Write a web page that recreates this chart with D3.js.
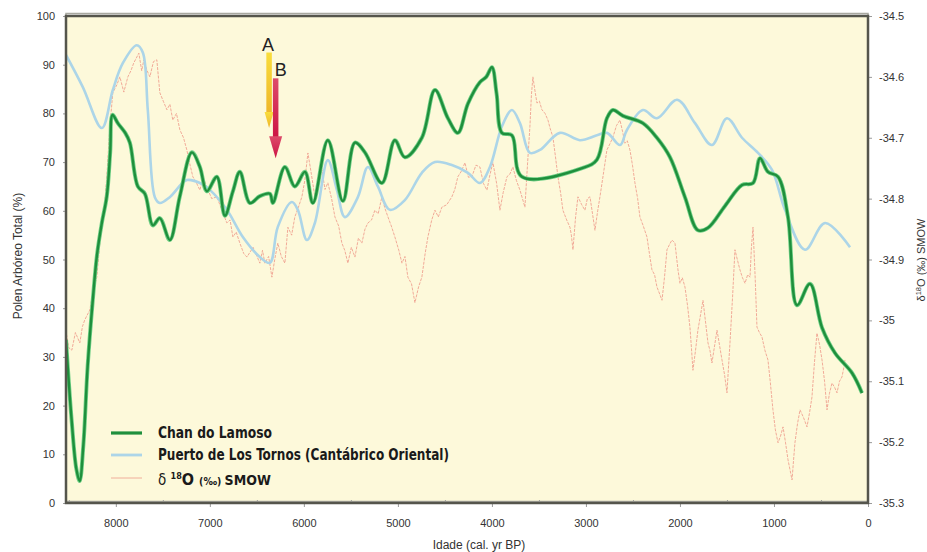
<!DOCTYPE html>
<html>
<head>
<meta charset="utf-8">
<script src="https://cdn.jsdelivr.net/npm/d3@7"></script>
<style>
  html, body { margin: 0; padding: 0; background: #ffffff; }
  svg { display: block; }
</style>
</head>
<body>
<svg id="chart" width="927" height="552"></svg>
<script>
// Tick values
const xTicks = [8000, 7000, 6000, 5000, 4000, 3000, 2000, 1000, 0];
const xMinorTicks = [8500, 7500, 6500, 5500, 4500, 3500, 2500, 1500, 500];
const leftTicks = [0, 10, 20, 30, 40, 50, 60, 70, 80, 90, 100];
const rightTicks = [-35.3, -35.2, -35.1, -35.0, -34.9, -34.8, -34.7, -34.6, -34.5];

// Chan do Lamoso: arboreal pollen (%), by age (cal. yr BP)
const lamosoAge = [8530, 8470, 8420, 8385, 8345, 8300, 8245, 8200, 8149, 8096, 8060, 8035, 7979, 7900, 7851, 7766, 7691, 7606, 7532, 7426, 7319, 7191, 7106, 7032, 6926, 6840, 6755, 6681, 6574, 6468, 6362, 6330, 6202, 6096, 5989, 5904, 5745, 5585, 5457, 5351, 5170, 5032, 4926, 4745, 4606, 4468, 4362, 4255, 4128, 4060, 4000, 3950, 3894, 3787, 3681, 3032, 2883, 2777, 2713, 2606, 2394, 2245, 2106, 1947, 1809, 1702, 1521, 1340, 1223, 1149, 1064, 957, 851, 755, 617, 489, 351, 170, 64];
const lamosoVal = [33.5, 17, 7, 4.5, 12, 28, 41.7, 51, 57.5, 63, 72, 79.7, 78, 76, 74, 65, 63.5, 57, 58.5, 54, 63, 72, 69, 64, 67, 59, 64, 68, 61.6, 63, 63.5, 61.6, 69, 65, 68, 61.6, 74.5, 62, 74, 72, 65.7, 74.5, 71, 75, 84.8, 79, 76, 82, 86.4, 87.5, 89.5, 84, 76, 75.5, 67, 68.8, 70.5, 79, 80.7, 79.5, 78, 75, 71, 62.8, 56, 56.5, 61, 65.3, 65.7, 70.8, 68, 67, 58.7, 40.6, 45, 36, 30.8, 26.7, 22.6];

// Puerto de Los Tornos (Cantábrico Oriental): arboreal pollen (%)
const tornosAge = [8530, 8351, 8149, 8032, 7926, 7777, 7713, 7660, 7585, 7532, 7426, 7245, 7106, 7000, 6819, 6649, 6468, 6362, 6277, 6128, 6064, 5968, 5883, 5745, 5649, 5564, 5426, 5319, 5213, 5085, 4926, 4745, 4606, 4426, 4255, 4128, 4021, 3894, 3787, 3702, 3596, 3489, 3277, 3064, 2883, 2777, 2638, 2564, 2394, 2245, 2030, 1840, 1660, 1500, 1340, 1170, 1021, 883, 670, 457, 191];
const tornosVal = [92, 85.4, 77, 84.8, 90.3, 94, 92.5, 80.7, 62.8, 61.6, 62.8, 66.3, 65.7, 64.3, 60.2, 54.6, 50.5, 49.3, 56.7, 61.8, 60.2, 54, 57.5, 70.4, 64.3, 58.7, 62.8, 69, 65, 60.2, 62.2, 67.8, 70, 69.4, 67.8, 65.7, 69, 77.3, 80.7, 78, 71.9, 72.5, 76, 74.5, 75.5, 76, 73.5, 76.6, 80.7, 79, 82.8, 78, 73.5, 79, 75, 71.9, 68.4, 60.2, 52, 57.5, 52.5];

// δ18O (‰ SMOW) record
const isoAge = [8532, 8500, 8468, 8430, 8383, 8355, 8330, 8277, 8240, 8202, 8170, 8130, 8096, 8064, 8032, 7989, 7957, 7915, 7872, 7840, 7809, 7755, 7725, 7702, 7670, 7638, 7600, 7564, 7532, 7495, 7457, 7425, 7394, 7355, 7319, 7280, 7245, 7210, 7181, 7140, 7106, 7070, 7032, 6980, 6925, 6870, 6819, 6785, 6755, 6720, 6681, 6640, 6606, 6540, 6468, 6440, 6415, 6375, 6340, 6310, 6277, 6240, 6202, 6170, 6130, 6096, 6060, 6021, 5990, 5957, 5920, 5883, 5845, 5808, 5775, 5745, 5705, 5670, 5630, 5596, 5565, 5532, 5495, 5457, 5420, 5383, 5350, 5319, 5280, 5245, 5210, 5170, 5140, 5106, 5070, 5032, 4990, 4957, 4925, 4894, 4855, 4819, 4780, 4745, 4710, 4681, 4640, 4606, 4570, 4532, 4480, 4426, 4395, 4362, 4325, 4287, 4250, 4213, 4170, 4128, 4090, 4053, 4020, 3989, 3950, 3915, 3880, 3840, 3810, 3777, 3740, 3702, 3675, 3649, 3620, 3596, 3580, 3564, 3540, 3521, 3495, 3468, 3435, 3404, 3380, 3351, 3325, 3298, 3270, 3245, 3205, 3170, 3155, 3138, 3110, 3085, 3045, 3011, 2985, 2957, 2930, 2904, 2875, 2851, 2815, 2777, 2745, 2713, 2675, 2638, 2610, 2585, 2560, 2532, 2505, 2479, 2450, 2426, 2390, 2351, 2325, 2298, 2270, 2245, 2220, 2191, 2165, 2138, 2110, 2085, 2053, 2021, 2000, 1975, 1947, 1920, 1894, 1878, 1862, 1835, 1809, 1780, 1755, 1730, 1702, 1680, 1660, 1630, 1606, 1580, 1553, 1525, 1500, 1485, 1468, 1440, 1415, 1390, 1362, 1335, 1308, 1280, 1255, 1240, 1223, 1200, 1181, 1155, 1128, 1095, 1064, 1040, 1011, 985, 957, 930, 904, 878, 851, 830, 808, 792, 777, 750, 723, 685, 649, 620, 596, 570, 543, 515, 489, 462, 436, 410, 383, 355, 330, 303, 277, 260, 245];
const isoVal = [-35.016, -35.045, -35.049, -35.02, -35.037, -35.01, -34.999, -34.983, -34.95, -34.929, -34.873, -34.83, -34.764, -34.682, -34.626, -34.613, -34.600, -34.625, -34.600, -34.59, -34.577, -34.561, -34.59, -34.572, -34.589, -34.600, -34.575, -34.572, -34.626, -34.64, -34.654, -34.645, -34.671, -34.66, -34.687, -34.70, -34.720, -34.745, -34.764, -34.775, -34.786, -34.765, -34.781, -34.80, -34.797, -34.82, -34.840, -34.835, -34.863, -34.855, -34.873, -34.89, -34.896, -34.88, -34.906, -34.885, -34.906, -34.895, -34.929, -34.90, -34.873, -34.895, -34.906, -34.847, -34.86, -34.830, -34.815, -34.797, -34.77, -34.725, -34.76, -34.797, -34.775, -34.753, -34.785, -34.774, -34.80, -34.830, -34.845, -34.873, -34.885, -34.906, -34.88, -34.896, -34.865, -34.873, -34.85, -34.840, -34.835, -34.819, -34.825, -34.797, -34.815, -34.830, -34.845, -34.863, -34.885, -34.906, -34.895, -34.929, -34.94, -34.971, -34.945, -34.929, -34.89, -34.863, -34.835, -34.819, -34.83, -34.814, -34.81, -34.797, -34.785, -34.764, -34.755, -34.741, -34.765, -34.764, -34.745, -34.748, -34.775, -34.786, -34.76, -34.741, -34.775, -34.819, -34.79, -34.764, -34.76, -34.748, -34.77, -34.786, -34.80, -34.814, -34.74, -34.682, -34.63, -34.600, -34.625, -34.643, -34.64, -34.654, -34.66, -34.671, -34.685, -34.699, -34.73, -34.764, -34.79, -34.819, -34.835, -34.847, -34.86, -34.884, -34.83, -34.797, -34.81, -34.819, -34.80, -34.797, -34.825, -34.852, -34.82, -34.797, -34.76, -34.720, -34.71, -34.699, -34.68, -34.671, -34.69, -34.709, -34.705, -34.720, -34.745, -34.774, -34.80, -34.830, -34.845, -34.863, -34.89, -34.917, -34.925, -34.945, -34.955, -34.967, -34.93, -34.884, -34.875, -34.868, -34.873, -34.917, -34.939, -34.93, -34.945, -34.975, -35.011, -35.045, -35.082, -35.05, -35.016, -34.99, -34.967, -35.00, -35.037, -35.05, -35.070, -35.04, -35.016, -35.04, -35.065, -35.09, -35.119, -35.08, -35.037, -34.96, -34.884, -34.90, -34.917, -34.93, -34.939, -34.925, -34.929, -34.88, -34.847, -34.93, -35.011, -35.02, -35.027, -35.05, -35.065, -35.10, -35.147, -35.18, -35.201, -35.19, -35.175, -35.20, -35.229, -35.245, -35.262, -35.23, -35.201, -35.17, -35.147, -35.16, -35.175, -35.15, -35.126, -35.07, -35.021, -35.04, -35.065, -35.10, -35.147, -35.12, -35.103, -35.11, -35.119, -35.10, -35.093, -35.08, -35.065];

// Event markers
const markerLabels = ["A", "B"];
const markerAges = [6370, 6300];
const markerFrom = [92.5, 87.2];
const markerTo = [77, 70.8];

// Legend entries
const legendNames = ["Chan do Lamoso", "Puerto de Los Tornos (Cantábrico Oriental)", "δ 18O (‰) SMOW"];

const svg = d3.select("#chart");
const plotL = 66, plotR = 868, plotT = 16, plotB = 503;

const x = d3.scaleLinear().domain([8530, 0]).range([plotL, plotR]);
const yL = d3.scaleLinear().domain([0, 100]).range([plotB, plotT]);
const yR = d3.scaleLinear().domain([-35.3, -34.5]).range([plotB, plotT]);

const defs = svg.append("defs");
defs.append("clipPath").attr("id", "plotClip")
  .append("rect").attr("x", plotL).attr("y", plotT).attr("width", plotR - plotL).attr("height", plotB - plotT);

const gradA = defs.append("linearGradient").attr("id", "gradA").attr("x1", 0).attr("y1", 0).attr("x2", 0).attr("y2", 1);
gradA.append("stop").attr("offset", "0%").attr("stop-color", "#f9dd3c");
gradA.append("stop").attr("offset", "100%").attr("stop-color", "#eeb52a");
const gradB = defs.append("linearGradient").attr("id", "gradB").attr("x1", 0).attr("y1", 0).attr("x2", 0).attr("y2", 1);
gradB.append("stop").attr("offset", "0%").attr("stop-color", "#dd4a6a");
gradB.append("stop").attr("offset", "100%").attr("stop-color", "#cc1444");

// Plot background
svg.append("rect")
  .attr("x", plotL).attr("y", plotT)
  .attr("width", plotR - plotL).attr("height", plotB - plotT)
  .attr("fill", "#fdf9da");

const plot = svg.append("g").attr("clip-path", "url(#plotClip)");

// δ18O record
const isoData = isoAge.map((a, i) => [a, isoVal[i]]);
plot.append("path")
  .datum(isoData)
  .attr("fill", "none")
  .attr("stroke", "#ee9c8c")
  .attr("stroke-width", 1)
  .attr("stroke-dasharray", "3,1.2")
  .attr("opacity", 0.85)
  .attr("d", d3.line().x(d => x(d[0])).y(d => yR(d[1])));

// Puerto de Los Tornos
const tornosData = tornosAge.map((a, i) => [a, tornosVal[i]]);
plot.append("path")
  .datum(tornosData)
  .attr("fill", "none")
  .attr("stroke", "#acd5e8")
  .attr("stroke-width", 2.6)
  .attr("d", d3.line().curve(d3.curveCatmullRom.alpha(0.5)).x(d => x(d[0])).y(d => yL(d[1])));

// Chan do Lamoso
const lamosoData = lamosoAge.map((a, i) => [a, lamosoVal[i]]);
const lamosoLine = d3.line().curve(d3.curveCatmullRom.alpha(0.5)).x(d => x(d[0])).y(d => yL(d[1]));
plot.append("path")
  .datum(lamosoData)
  .attr("fill", "none")
  .attr("stroke", "#6fcf86")
  .attr("stroke-width", 4)
  .attr("stroke-linejoin", "round")
  .attr("d", lamosoLine);
plot.append("path")
  .datum(lamosoData)
  .attr("fill", "none")
  .attr("stroke", "#1f8f3c")
  .attr("stroke-width", 2.4)
  .attr("stroke-linejoin", "round")
  .attr("d", lamosoLine);

// Event arrows A and B
const markerFill = ["url(#gradA)", "url(#gradB)"];
const shaftW = 5.5;
const headW = [9, 13];
const headH = [16, 22];
markerLabels.forEach((lab, i) => {
  const cx = x(markerAges[i]);
  const y0 = yL(markerFrom[i]);
  const y1 = yL(markerTo[i]);
  const g = svg.append("g");
  g.append("rect")
    .attr("x", cx - shaftW / 2).attr("y", y0)
    .attr("width", shaftW).attr("height", y1 - headH[i] - y0 + 2)
    .attr("fill", markerFill[i]);
  g.append("path")
    .attr("d", `M${cx - headW[i] / 2},${y1 - headH[i]} L${cx + headW[i] / 2},${y1 - headH[i]} L${cx},${y1} Z`)
    .attr("fill", markerFill[i]);
  g.append("text")
    .attr("x", cx + (i === 0 ? -1 : 5))
    .attr("y", y0 - 2)
    .attr("text-anchor", "middle")
    .attr("font-family", "Liberation Sans, Arial, sans-serif")
    .attr("font-size", 18)
    .attr("fill", "#222")
    .text(lab);
});

// Legend
const legendFont = "'Liberation Sans Narrow', 'DejaVu Sans Condensed', 'Liberation Sans', sans-serif";
const legendY = [433, 455, 478];
const legendWidths = [114, 291, 119];
const lg = svg.append("g");
lg.append("line").attr("x1", 111).attr("x2", 142).attr("y1", legendY[0]).attr("y2", legendY[0])
  .attr("stroke", "#1f8f3c").attr("stroke-width", 3.2);
lg.append("line").attr("x1", 111).attr("x2", 142).attr("y1", legendY[1]).attr("y2", legendY[1])
  .attr("stroke", "#acd5e8").attr("stroke-width", 2.8);
lg.append("line").attr("x1", 111).attr("x2", 142).attr("y1", legendY[2]).attr("y2", legendY[2])
  .attr("stroke", "#ee9c8c").attr("stroke-width", 1).attr("opacity", 0.8);

[0, 1].forEach(i => {
  lg.append("text")
    .attr("x", 158).attr("y", legendY[i] + 5)
    .attr("font-family", legendFont)
    .attr("font-weight", "bold")
    .attr("font-size", 15)
    .attr("fill", "#1a1a1a")
    .attr("textLength", legendWidths[i])
    .attr("lengthAdjust", "spacingAndGlyphs")
    .text(legendNames[i]);
});
const isoLegend = lg.append("text")
  .attr("x", 158).attr("y", legendY[2] + 7)
  .attr("font-family", legendFont)
  .attr("font-weight", "bold")
  .attr("fill", "#1a1a1a");
isoLegend.append("tspan").attr("font-size", 15).attr("font-weight", "normal").text("δ ");
isoLegend.append("tspan").attr("font-size", 9).attr("dy", -6).text("18");
isoLegend.append("tspan").attr("font-size", 16).attr("dy", 6).text("O ");
isoLegend.append("tspan").attr("font-size", 10.5).text("(‰) ");
isoLegend.append("tspan").attr("font-size", 14).text("SMOW");

// Axes
const tickFont = "Liberation Sans, Arial, sans-serif";
function styleAxis(g) {
  g.select(".domain").remove();
  g.selectAll(".tick line").attr("stroke", "#9a9a9a");
  g.selectAll(".tick text").attr("font-family", tickFont).attr("font-size", 11).attr("fill", "#333");
}

svg.append("g")
  .attr("transform", `translate(${plotL},0)`)
  .call(d3.axisLeft(yL).tickValues(leftTicks).tickSize(3).tickPadding(8).tickFormat(d3.format("d")))
  .call(styleAxis);

svg.append("g")
  .attr("transform", `translate(${plotR},0)`)
  .call(d3.axisRight(yR).tickValues(rightTicks).tickSize(4).tickPadding(7)
    .tickFormat(d => (Math.round(d * 10) / 10).toString()))
  .call(styleAxis);

svg.append("g")
  .attr("transform", `translate(0,${plotB})`)
  .call(d3.axisBottom(x).tickValues(xTicks).tickSize(4).tickPadding(12).tickFormat(d3.format("d")))
  .call(styleAxis);

svg.append("g")
  .attr("transform", `translate(0,${plotB})`)
  .call(d3.axisTop(x).tickValues(xMinorTicks).tickSize(3).tickFormat(""))
  .call(styleAxis);

// Frame
svg.append("rect")
  .attr("x", plotL).attr("y", plotT - 1)
  .attr("width", plotR - plotL).attr("height", plotB - plotT + 1)
  .attr("fill", "none")
  .attr("stroke", "#a8a8a0")
  .attr("stroke-width", 1.5)
  .attr("transform", "translate(0,-1.5)");
svg.append("rect")
  .attr("x", plotL).attr("y", plotT)
  .attr("width", plotR - plotL).attr("height", plotB - plotT)
  .attr("fill", "none")
  .attr("stroke", "#55554c")
  .attr("stroke-width", 2.5);

// Axis titles
svg.append("text")
  .attr("transform", `translate(22,256) rotate(-90)`)
  .attr("text-anchor", "middle")
  .attr("font-family", tickFont)
  .attr("font-size", 12)
  .attr("fill", "#333")
  .text("Polen Arbóreo Total (%)");

const rightTitle = svg.append("text")
  .attr("transform", `translate(925,260) rotate(-90)`)
  .attr("text-anchor", "middle")
  .attr("font-family", tickFont)
  .attr("font-size", 11)
  .attr("fill", "#333");
rightTitle.append("tspan").text("δ");
rightTitle.append("tspan").attr("font-size", 7.5).attr("dy", -4).text("18");
rightTitle.append("tspan").attr("dy", 4).text("O (‰) SMOW");

svg.append("text")
  .attr("x", 479).attr("y", 549)
  .attr("text-anchor", "middle")
  .attr("font-family", tickFont)
  .attr("font-size", 12)
  .attr("fill", "#333")
  .text("Idade (cal. yr BP)");
</script>
</body>
</html>
